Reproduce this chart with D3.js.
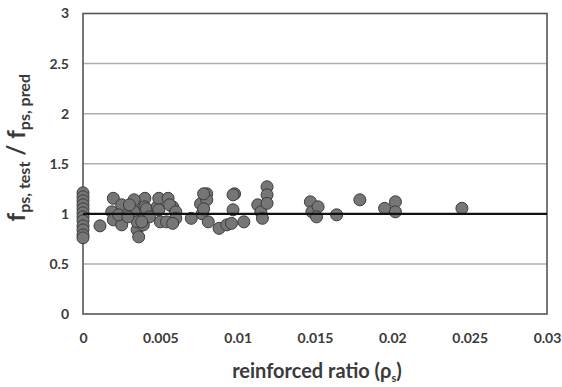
<!DOCTYPE html>
<html>
<head>
<meta charset="utf-8">
<script src="https://cdn.jsdelivr.net/npm/d3@7"></script>
<style>
  body { margin: 0; background: #fff; }
  text { font-family: Lato, "Open Sans", sans-serif; font-weight: bold; fill: #3a3a3a; }
</style>
</head>
<body>
<div class="svg-container"></div>
<script>
var width = 562;
var height = 387;

var padding = { "top": 13.5, "right": 15, "bottom": 73, "left": 83 };

// reinforcement ratio vs test/predicted stress ratio
var ratioX = [0, 0, 0, 0, 0, 0, 0, 0, 0, 0, 0, 0,
  0.0011, 0.00196, 0.0025, 0.00186, 0.00196, 0.0025, 0.0023, 0.0029, 0.0033, 0.0033,
  0.0035, 0.0036, 0.0035, 0.0040, 0.0040, 0.0040, 0.0039, 0.0033, 0.0041,
  0.0030, 0.0029, 0.0043, 0.0048, 0.0058, 0.0038,
  0.0049, 0.0049, 0.0050, 0.0055, 0.0056, 0.0060, 0.0060, 0.0054, 0.0058,
  0.0070, 0.0076, 0.0080, 0.0080, 0.0077, 0.0081, 0.0088, 0.0093, 0.0078, 0.0078,
  0.0098, 0.0097, 0.0096, 0.0104, 0.0097,
  0.0113, 0.0115, 0.0116, 0.0119, 0.0119, 0.0119,
  0.0147, 0.0148, 0.0152, 0.0151, 0.0164, 0.0179,
  0.0195, 0.0202, 0.0202, 0.0245];
var ratioY = [1.21, 1.17, 1.13, 1.09, 1.05, 1.01, 0.97, 0.93, 0.88, 0.84, 0.79, 0.76,
  0.88, 1.155, 1.09, 1.02, 0.94, 0.89, 0.99, 1.0, 1.10, 1.02,
  0.84, 0.77, 0.92, 1.155, 1.07, 0.97, 0.89, 1.14, 1.05,
  1.09, 0.97, 0.97, 1.07, 1.07, 0.92,
  1.155, 1.04, 0.92, 1.155, 1.09, 1.02, 0.955, 0.92, 0.905,
  0.955, 1.10, 1.20, 1.14, 1.0, 0.92, 0.855, 0.89, 1.2, 1.05,
  1.20, 1.04, 0.905, 0.92, 1.19,
  1.09, 1.02, 0.955, 1.27, 1.19, 1.105,
  1.12, 1.02, 1.07, 0.97, 0.99, 1.14,
  1.055, 1.12, 1.02, 1.055];

var xTicks = [0, 0.005, 0.01, 0.015, 0.02, 0.025, 0.03];
var yTicks = [0, 0.5, 1, 1.5, 2, 2.5, 3];

var innerW = width - padding.left - padding.right;
var innerH = height - padding.top - padding.bottom;

var svg = d3.select(".svg-container")
  .append("svg")
  .attr("width", width)
  .attr("height", height)
  .append("g")
  .attr("transform", "translate(" + padding.left + "," + padding.top + ")");

var scaleX = d3.scaleLinear().domain([0, 0.03]).range([0, innerW]);
var scaleY = d3.scaleLinear().domain([0, 3]).range([innerH, 0]);

// gridlines
svg.selectAll(".grid")
  .data(yTicks.slice(1, -1))
  .enter()
  .append("line")
  .attr("x1", 0)
  .attr("x2", innerW)
  .attr("y1", function(d) { return scaleY(d); })
  .attr("y2", function(d) { return scaleY(d); })
  .attr("stroke", "#b0b0b0")
  .attr("stroke-width", 1.5);

// plot frame
svg.append("rect")
  .attr("width", innerW)
  .attr("height", innerH)
  .attr("fill", "none")
  .attr("stroke", "#555")
  .attr("stroke-width", 1.6);

// axes (labels only), plain number format like Excel
var plain = function(d) { return String(+d.toFixed(3)); };
var xAxis = svg.append("g")
  .attr("transform", "translate(0," + innerH + ")")
  .call(d3.axisBottom(scaleX).tickValues(xTicks).tickSize(0).tickPadding(19).tickFormat(plain));
var yAxis = svg.append("g")
  .call(d3.axisLeft(scaleY).tickValues(yTicks).tickSize(0).tickPadding(14).tickFormat(plain));

[xAxis, yAxis].forEach(function(a) {
  a.select(".domain").remove();
  a.selectAll("text")
    .attr("font-size", 14)
    .attr("font-family", "Lato, 'Open Sans', sans-serif")
    .attr("font-weight", "bold")
    .attr("fill", "#3a3a3a");
});

// data points
var pts = ratioX.map(function(x, i) { return { x: x, y: ratioY[i] }; });
svg.selectAll("circle")
  .data(pts)
  .enter()
  .append("circle")
  .attr("cx", function(d) { return scaleX(d.x); })
  .attr("cy", function(d) { return scaleY(d.y); })
  .attr("r", 6)
  .attr("fill", "#767676")
  .attr("stroke", "#3c3c3c")
  .attr("stroke-width", 1);

// reference line at 1
svg.append("line")
  .attr("x1", scaleX(0))
  .attr("x2", scaleX(0.03))
  .attr("y1", scaleY(1))
  .attr("y2", scaleY(1))
  .attr("stroke", "#111")
  .attr("stroke-width", 2.2);

// x label
var xl = svg.append("text")
  .attr("x", innerW / 2 + 2)
  .attr("y", innerH + 64)
  .attr("text-anchor", "middle")
  .attr("font-size", 20)
  .attr("fill", "#2a2a2a");
xl.append("tspan").text("reinforced ratio (ρ");
xl.append("tspan").attr("font-size", 11).attr("dy", 4).text("s");
xl.append("tspan").attr("dy", -4).text(")");

// y label
var yl = svg.append("text")
  .attr("transform", "rotate(-90)")
  .attr("x", -scaleY(1.66))
  .attr("y", -58)
  .attr("text-anchor", "middle")
  .attr("font-size", 24)
  .attr("fill", "#2a2a2a");
yl.append("tspan").text("f");
yl.append("tspan").attr("font-size", 16).attr("dy", 5).text("ps, test");
yl.append("tspan").attr("dy", -5).text(" / f");
yl.append("tspan").attr("font-size", 16).attr("dy", 5).text("ps, pred");
</script>
</body>
</html>
